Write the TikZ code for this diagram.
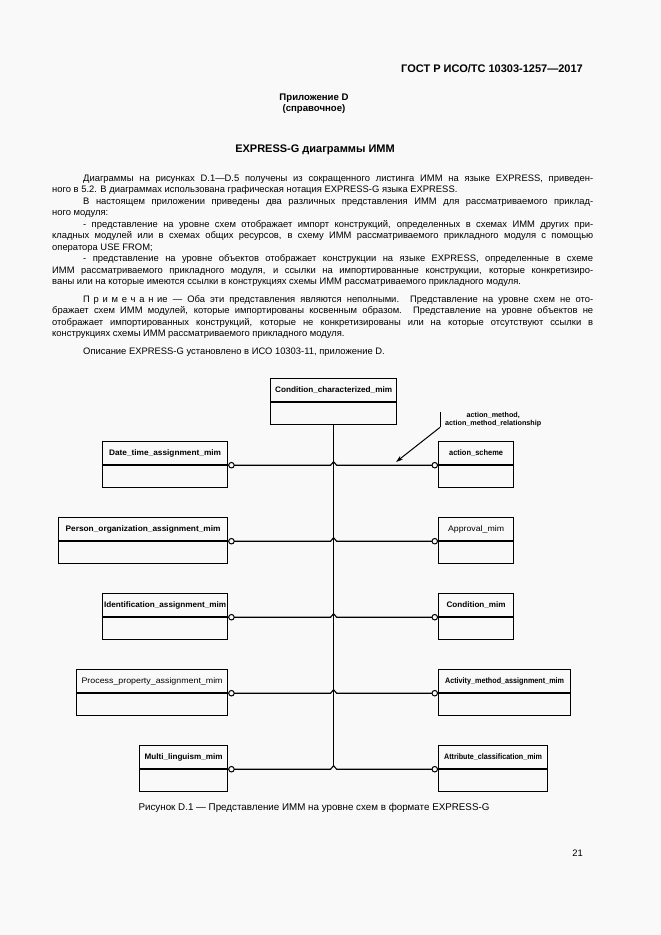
\documentclass[tikz,border=0pt]{standalone}
\usepackage{fontspec}
\setmainfont{Liberation Sans}
\usepackage{graphicx}
\usetikzlibrary{arrows.meta,calc}
\definecolor{bg}{RGB}{249,249,249}
\newcommand{\fitlbl}[2]{\resizebox{#1}{\height}{#2}}
\newcommand{\jl}[1]{\hbox to \linewidth{#1}}
\tikzset{
  entt/.style={draw, line width=1.2pt, inner sep=0pt, minimum width=#1, minimum height=23pt,
    anchor=north west, font=\fontsize{8}{9}\selectfont\bfseries},
  entb/.style={draw, line width=1.2pt, inner sep=0pt, minimum width=#1, minimum height=22pt, anchor=north},
  conn/.style={line width=1.1pt},
  circl/.style={draw, circle, line width=1pt, inner sep=0pt, minimum size=5.5pt, fill=bg},
  txt/.style={inner sep=0pt, font=\fontsize{9.4}{11.5}\selectfont}
}
\begin{document}
\begin{tikzpicture}[x=1pt,y=-1pt]
\path[use as bounding box, fill=bg] (0,0) rectangle (661,935);

% header texts
\node[anchor=base east, inner sep=0pt, font=\fontsize{11}{13}\selectfont\bfseries] (hdr) at (583,72) {ГОСТ Р ИСО/ТС 10303-1257—2017};
\node[anchor=base, inner sep=0pt, font=\fontsize{9.6}{11}\selectfont\bfseries] (app) at (314,100) {Приложение D};
\node[anchor=base, inner sep=0pt, font=\fontsize{9.6}{11}\selectfont\bfseries] (ref) at (314,111) {(справочное)};
\node[anchor=base, inner sep=0pt, font=\fontsize{11}{13}\selectfont\bfseries] (ttl) at (315,152) {EXPRESS-G диаграммы ИММ};

% body text
\node[txt, anchor=base west] (body) at (52,181) {\begin{minipage}[t]{541pt}
\fontsize{9.4}{11.5}\selectfont
\jl{\hspace*{31pt}Диаграммы на рисунках D.1—D.5 получены из сокращенного листинга ИММ на языке EXPRESS, приведен-}
\hbox{ного в 5.2. В диаграммах использована графическая нотация EXPRESS-G языка EXPRESS.}
\jl{\hspace*{31pt}В настоящем приложении приведены два различных представления ИММ для рассматриваемого приклад-}
\hbox{ного модуля:}
\jl{\hspace*{31pt}- представление на уровне схем отображает импорт конструкций, определенных в схемах ИММ других при-}
\jl{кладных модулей или в схемах общих ресурсов, в схему ИММ рассматриваемого прикладного модуля с помощью}
\hbox{оператора USE FROM;}
\jl{\hspace*{31pt}- представление на уровне объектов отображает конструкции на языке EXPRESS, определенные в схеме}
\jl{ИММ рассматриваемого прикладного модуля, и ссылки на импортированные конструкции, которые конкретизиро-}
\hbox{ваны или на которые имеются ссылки в конструкциях схемы ИММ рассматриваемого прикладного модуля.}
\vspace{6pt}
\jl{\hspace*{31pt}{\addfontfeature{LetterSpace=40}Примечани}е — Оба эти представления являются неполными. Представление на уровне схем не ото-}
\jl{бражает схем ИММ модулей, которые импортированы косвенным образом. Представление на уровне объектов не}
\jl{отображает импортированных конструкций, которые не конкретизированы или на которые отсутствуют ссылки в}
\hbox{конструкциях схемы ИММ рассматриваемого прикладного модуля.}
\vspace{6pt}
\hbox{\hspace*{31pt}Описание EXPRESS-G установлено в ИСО 10303-11, приложение D.}
\end{minipage}};

% entities
\node[entt=126pt] (cc) at (270,378) {\fitlbl{117pt}{Condition\_characterized\_mim}};
\node[entb=126pt] (ccb) at (cc.south) {};

\node[entt=125pt] (dt) at (102,441) {\fitlbl{112pt}{Date\_time\_assignment\_mim}};
\node[entb=125pt] (dtb) at (dt.south) {};
\node[entt=169pt] (po) at (58,517) {\fitlbl{155pt}{Person\_organization\_assignment\_mim}};
\node[entb=169pt] (pob) at (po.south) {};
\node[entt=125pt] (id) at (102,593) {\fitlbl{122pt}{Identification\_assignment\_mim}};
\node[entb=125pt] (idb) at (id.south) {};
\node[entt=151pt] (pp) at (76,669) {\fitlbl{141pt}{\mdseries Process\_property\_assignment\_mim}};
\node[entb=151pt] (ppb) at (pp.south) {};
\node[entt=88pt] (ml) at (139,745) {\fitlbl{78pt}{Multi\_linguism\_mim}};
\node[entb=88pt] (mlb) at (ml.south) {};

\node[entt=75pt] (as) at (438,441) {\fitlbl{54pt}{action\_scheme}};
\node[entb=75pt] (asb) at (as.south) {};
\node[entt=75pt] (ap) at (438,517) {\fitlbl{56pt}{\mdseries Approval\_mim}};
\node[entb=75pt] (apb) at (ap.south) {};
\node[entt=75pt] (cm) at (438,593) {\fitlbl{59pt}{Condition\_mim}};
\node[entb=75pt] (cmb) at (cm.south) {};
\node[entt=132pt] (am) at (438,669) {\fitlbl{119pt}{Activity\_method\_assignment\_mim}};
\node[entb=132pt] (amb) at (am.south) {};
\node[entt=109pt] (ac) at (438,745) {\fitlbl{98pt}{Attribute\_classification\_mim}};
\node[entb=109pt] (acb) at (ac.south) {};

% junction coordinates on trunk
\coordinate (j1) at (ccb.south |- dt.south east);
\coordinate (j2) at (ccb.south |- po.south east);
\coordinate (j3) at (ccb.south |- id.south east);
\coordinate (j4) at (ccb.south |- pp.south east);
\coordinate (j5) at (ccb.south |- ml.south east);

% trunk
\draw[conn] (ccb.south) -- ($(j5)+(0,-3.5)$);

% horizontal connectors with circles
\foreach \l/\r/\j in {dt/as/j1, po/ap/j2, id/cm/j3, pp/am/j4, ml/ac/j5}{
  \draw[conn, line join=miter] (\l.south east) -- ($(\j)+(-3,0)$) -- ($(\j)+(0,-3.5)$) -- ($(\j)+(3,0)$) -- (\r.south west);
  \node[circl, anchor=west] (cl-\l) at (\l.south east) {};
  \node[circl, anchor=east] (cr-\r) at (\r.south west) {};
}

% annotation
\node[anchor=west, inner xsep=5pt, inner ysep=0pt, align=center,
      font=\fontsize{7.2}{8.6}\selectfont\bfseries] (lbl) at (440,419.5)
      {action\_method,\\action\_method\_relationship};
\coordinate (tip) at (396,462);
\draw[conn, line width=1pt] (lbl.north west) -- (lbl.south west);
\draw[conn, line width=1pt, -{Stealth[length=7pt,width=4.5pt]}] (lbl.south west) -- (tip);

% caption and page number
\node[inner sep=0pt, font=\fontsize{9.8}{12}\selectfont, anchor=base] (cap) at (314,810) {Рисунок D.1 — Представление ИММ на уровне схем в формате EXPRESS-G};
\node[txt, anchor=base east] (pg) at (583,856) {21};
\end{tikzpicture}
\end{document}
